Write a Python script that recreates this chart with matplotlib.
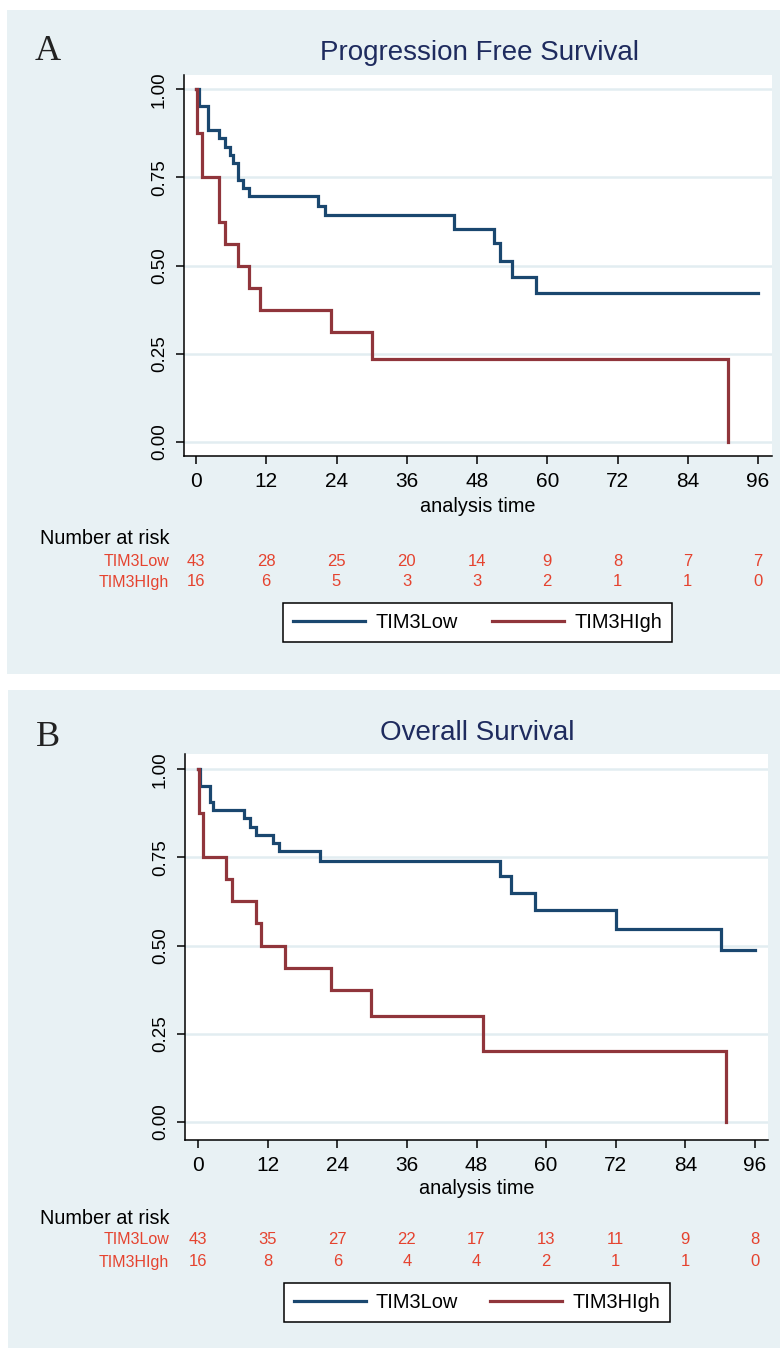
import matplotlib
matplotlib.use("Agg")
import matplotlib.pyplot as plt
from matplotlib.patches import Rectangle
from matplotlib.transforms import blended_transform_factory

plt.rcParams['font.family'] = ['Liberation Sans', 'DejaVu Sans']

# ---------------- data ----------------
time_ticks = [0, 12, 24, 36, 48, 60, 72, 84, 96]
y_ticks = [0.0, 0.25, 0.5, 0.75, 1.0]
y_tick_labels = ["0.00", "0.25", "0.50", "0.75", "1.00"]
groups = ["TIM3Low", "TIM3HIgh"]

# Progression free survival (step times, survival after step)
pfs_low_t = [0, 0.5, 2.1, 4.0, 5.0, 5.8, 6.4, 7.1, 8.1, 9.1, 20.9, 22.0, 44.0, 50.9, 52.0, 54.0, 58.1]
pfs_low_s = [1.0, 0.953, 0.884, 0.861, 0.837, 0.814, 0.791, 0.744, 0.721, 0.698, 0.669, 0.644, 0.603, 0.563, 0.514, 0.467, 0.422]
pfs_low_end = 96
pfs_high_t = [0, 0.15, 1.0, 4.0, 5.0, 7.1, 9.1, 10.9, 23.0, 30.0, 90.9]
pfs_high_s = [1.0, 0.875, 0.75, 0.625, 0.5625, 0.5, 0.4375, 0.375, 0.3125, 0.234, 0.0]
pfs_high_end = 90.9
pfs_risk_low = [43, 28, 25, 20, 14, 9, 8, 7, 7]
pfs_risk_high = [16, 6, 5, 3, 3, 2, 1, 1, 0]

# Overall survival
os_low_t = [0, 0.4, 2.1, 2.6, 8.0, 8.9, 10.0, 13.0, 14.0, 21.0, 52.1, 54.0, 58.1, 72.1, 90.1]
os_low_s = [1.0, 0.953, 0.907, 0.884, 0.861, 0.837, 0.814, 0.791, 0.767, 0.741, 0.697, 0.648, 0.601, 0.547, 0.487]
os_low_end = 96
os_high_t = [0, 0.15, 0.9, 4.9, 5.8, 10.0, 10.9, 15.0, 23.0, 29.9, 49.1, 91.0]
os_high_s = [1.0, 0.875, 0.75, 0.6875, 0.625, 0.5625, 0.5, 0.4375, 0.375, 0.30, 0.20, 0.0]
os_high_end = 91.0
os_risk_low = [43, 35, 27, 22, 17, 13, 11, 9, 8]
os_risk_high = [16, 8, 6, 4, 4, 2, 1, 1, 0]

titles = ["Progression Free Survival", "Overall Survival"]
panel_letters = ["A", "B"]

# ---------------- style ----------------
BG = '#E8F1F4'
GRID = '#E2EDF1'
BLUE = '#1A476F'
RED = '#90353B'
RISK = '#E5432F'
TITLE = '#1E2B5E'

W, H = 780, 1349
fig = plt.figure(figsize=(W / 100, H / 100), dpi=100)
fig.patch.set_facecolor('white')

def fx(px):
    return px / W

def fy(py):
    return 1 - py / H

def rect(l, t, r, b):
    return [fx(l), fy(b), (r - l) / W, (b - t) / H]

panels = [
    dict(bg=(7, 10, 780, 674), ax=(184, 75, 772, 456), x0px=196, x96px=758,
         y1px=89.3, y0px=442, letter=(48, 52), title_y=53, xlabel_y=506,
         nar_y=538, row_y=(561, 582), legend=(283, 600, 672, 644),
         curves=((pfs_low_t, pfs_low_s, pfs_low_end), (pfs_high_t, pfs_high_s, pfs_high_end)),
         risk=(pfs_risk_low, pfs_risk_high)),
    dict(bg=(8, 690, 780, 1348), ax=(185, 754, 768, 1140), x0px=198, x96px=755,
         y1px=769.3, y0px=1121.7, letter=(48, 737), title_y=733, xlabel_y=1189,
         nar_y=1218, row_y=(1240, 1262), legend=(284, 1281, 670, 1324),
         curves=((os_low_t, os_low_s, os_low_end), (os_high_t, os_high_s, os_high_end)),
         risk=(os_risk_low, os_risk_high)),
]

for i, p in enumerate(panels):
    l, t, r, b = p['bg']
    fig.add_artist(Rectangle((fx(l), fy(b)), (r - l) / W, (b - t) / H,
                             transform=fig.transFigure, facecolor=BG, edgecolor='none', zorder=0))
    al, at, ar, ab = p['ax']
    ax = fig.add_axes(rect(al, at, ar, ab))
    ax.set_facecolor('white')
    ax.set_zorder(2)
    ppm = (p['x96px'] - p['x0px']) / 96.0
    ax.set_xlim(-(p['x0px'] - al) / ppm, 96 + (ar - p['x96px']) / ppm)
    ppu = p['y0px'] - p['y1px']
    ax.set_ylim(-(ab - p['y0px']) / ppu, 1 + (p['y1px'] - at) / ppu)

    lines = []
    for (tt, ss, end), col, lab in zip(p['curves'], (BLUE, RED), groups):
        xs = list(tt) + ([end] if end > tt[-1] else [])
        ys = list(ss) + ([ss[-1]] if end > tt[-1] else [])
        ln, = ax.step(xs, ys, where='post', color=col, lw=2.3, label=lab,
                      solid_joinstyle='miter', zorder=3)
        lines.append(ln)

    ax.set_xticks(time_ticks)
    ax.set_xticklabels([str(v) for v in time_ticks])
    ax.set_yticks(y_ticks)
    ax.set_yticklabels(y_tick_labels, rotation=90, va='center')
    ax.yaxis.grid(True, color=GRID, lw=1.8, zorder=1)
    ax.set_axisbelow(True)
    for s in ('top', 'right'):
        ax.spines[s].set_visible(False)
    for s in ('left', 'bottom'):
        ax.spines[s].set_linewidth(1.1)
        ax.spines[s].set_color('black')
    ax.tick_params(axis='x', direction='out', length=6, width=1.1, pad=5.5, labelsize=15)
    ax.tick_params(axis='y', direction='out', length=6, width=1.1, pad=5.5, labelsize=13.5)

    ax.set_xlabel("analysis time", fontsize=14.3, va='center')
    ax.xaxis.set_label_coords(fx((al + ar) / 2), fy(p['xlabel_y']), transform=fig.transFigure)

    fig.text(fx((al + ar) / 2 + 1), fy(p['title_y']), titles[i], ha='center', va='center',
             fontsize=20, color=TITLE)
    fig.text(fx(p['letter'][0]), fy(p['letter'][1]), panel_letters[i], ha='center', va='center',
             fontsize=26, family=['Liberation Serif', 'DejaVu Serif'], color='#222222')

    # number at risk table
    fig.text(fx(40), fy(p['nar_y']), "Number at risk", ha='left', va='center', fontsize=14.3)
    tr = blended_transform_factory(ax.transData, fig.transFigure)
    for g, counts, ry in zip(groups, p['risk'], p['row_y']):
        fig.text(fx(169), fy(ry), g, ha='right', va='center', fontsize=11.5, color=RISK)
        for tv, c in zip(time_ticks, counts):
            fig.text(tv, fy(ry), str(c), transform=tr, ha='center', va='center',
                     fontsize=12, color=RISK)

    # legend
    ll, lt, lr, lb = p['legend']
    leg = fig.legend(lines, groups, loc='center',
                     bbox_to_anchor=(fx(ll), fy(lb), (lr - ll) / W, (lb - lt) / H),
                     bbox_transform=fig.transFigure, mode='expand', ncol=2,
                     fontsize=14.4, handlelength=3.6, handletextpad=0.5,
                     columnspacing=1.5, borderpad=0.5, borderaxespad=0,
                     fancybox=False, framealpha=1, edgecolor='black')
    leg.get_frame().set_linewidth(1.1)
    for h in leg.get_lines():
        h.set_linewidth(2.3)

fig.savefig("out.png", dpi=100, facecolor='white')
